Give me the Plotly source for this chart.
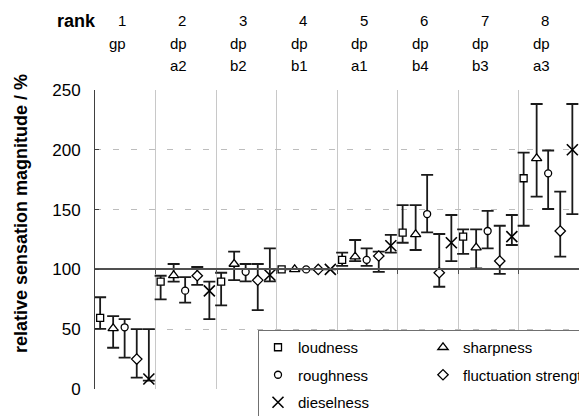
import plotly.graph_objects as go

# ---- data ----
ranks = [1, 2, 3, 4, 5, 6, 7, 8]
cond_type = ["gp", "dp", "dp", "dp", "dp", "dp", "dp", "dp"]
cond_id = ["", "a2", "b2", "b1", "a1", "b4", "b3", "a3"]

series_names = ["loudness", "sharpness", "roughness", "fluctuation strength", "dieselness"]

loud_val = [59.5, 89.7, 89.7, 100, 108.0, 130.7, 127.4, 176.2]
loud_hi = [76.7, 94.7, 97.2, 100, 114.0, 153.8, 133.5, 197.6]
loud_lo = [50.2, 75.0, 70.0, 100, 103.0, 122.3, 112.9, 136.5]

sharp_val = [50.7, 95.0, 104.5, 100, 110.6, 129.3, 118.2, 192.8]
sharp_hi = [61.0, 104.5, 114.8, 100, 124.6, 153.8, 133.5, 238.3]
sharp_lo = [34.5, 89.7, 91.0, 100, 107.0, 116.2, 100.9, 160.8]

rough_val = [51.6, 82.2, 98.0, 100, 108.0, 146.3, 132.1, 180.3]
rough_hi = [58.5, 93.6, 104.5, 100, 117.6, 179.0, 149.0, 199.4]
rough_lo = [26.2, 72.2, 90.0, 100, 103.0, 131.0, 117.6, 150.5]

fluct_val = [25.0, 94.7, 91.0, 100, 111.2, 97.2, 107.0, 132.1]
fluct_hi = [50.0, 102.0, 104.5, 100, 114.8, 129.6, 136.5, 165.0]
fluct_lo = [9.5, 87.0, 66.0, 100, 98.0, 85.5, 96.2, 110.6]

diesel_val = [8.4, 82.0, 95.3, 100, 119.8, 122.3, 127.4, 200.0]
diesel_hi = [50.0, 89.7, 117.6, 100, 128.8, 145.5, 145.5, 238.3]
diesel_lo = [7.0, 58.5, 90.0, 100, 114.0, 107.0, 120.4, 146.3]

y_ticks = [0, 50, 100, 150, 200, 250]

# ---- styling ----
FONT = "Liberation Sans, Arial, sans-serif"
offsets = [-0.415, -0.2, -0.01, 0.19, 0.39]
symbols = ["square", "triangle-up", "circle", "diamond", "x-thin-open"]
sizes = [7, 9, 7, 8, 11]
fills = ["white", "white", "white", "white", "black"]

vals = [loud_val, sharp_val, rough_val, fluct_val, diesel_val]
his = [loud_hi, sharp_hi, rough_hi, fluct_hi, diesel_hi]
los = [loud_lo, sharp_lo, rough_lo, fluct_lo, diesel_lo]

fig = go.Figure()
for k, name in enumerate(series_names):
    v, h, l = vals[k], his[k], los[k]
    fig.add_trace(go.Scatter(
        x=[r + offsets[k] for r in ranks],
        y=v,
        mode="markers",
        name=name,
        legendgroup=name,
        marker=dict(symbol=symbols[k], size=sizes[k], color=fills[k],
                    line=dict(color="black", width=1.6 if k == 4 else 1.3)),
        error_y=dict(type="data", symmetric=False,
                     array=[hh - vv for hh, vv in zip(h, v)],
                     arrayminus=[vv - ll for vv, ll in zip(v, l)],
                     color="#1a1a1a", thickness=1.8, width=6),
    ))

# pixel helpers for annotation placement (layout only)
def py2paper(py):
    return (389 - py) / 299.0

def px2paper(px):
    return (px - 95) / 484.0

annotations = []
annotations.append(dict(text="<b>rank</b>", xref="paper", yref="paper",
                        x=px2paper(98), y=py2paper(21), xanchor="right", yanchor="middle",
                        showarrow=False, font=dict(family=FONT, size=18, color="black")))
for r, t, c in zip(ranks, cond_type, cond_id):
    annotations.append(dict(text=str(r), xref="x", yref="paper", x=r - 0.06, y=py2paper(21),
                            showarrow=False, xanchor="center", yanchor="middle",
                            font=dict(family=FONT, size=15, color="black")))
    annotations.append(dict(text=t, xref="x", yref="paper", x=r - 0.12, y=py2paper(43),
                            showarrow=False, xanchor="center", yanchor="middle",
                            font=dict(family=FONT, size=15, color="black")))
    if c:
        annotations.append(dict(text=c, xref="x", yref="paper", x=r - 0.12, y=py2paper(65),
                                showarrow=False, xanchor="center", yanchor="middle",
                                font=dict(family=FONT, size=15, color="black")))
annotations.append(dict(text="<b>relative sensation magnitude / %</b>", xref="paper", yref="paper",
                        x=px2paper(21), y=py2paper(214), textangle=-90, showarrow=False,
                        xanchor="center", yanchor="middle",
                        font=dict(family=FONT, size=18, color="black")))

fig.update_layout(
    width=579, height=416,
    margin=dict(l=95, r=0, t=90, b=27, autoexpand=False),
    paper_bgcolor="white", plot_bgcolor="white",
    font=dict(family=FONT, size=14, color="black"),
    annotations=annotations,
    showlegend=True,
    legend=dict(orientation="h", x=px2paper(258), y=py2paper(330),
                xanchor="left", yanchor="top",
                bgcolor="white", bordercolor="#707070", borderwidth=1,
                font=dict(family=FONT, size=15, color="black"),
                tracegroupgap=5, entrywidth=120, itemwidth=30),
    xaxis=dict(range=[0.5, 8.5], anchor="free", position=100 / 250.0,
               tickvals=[1.5, 2.5, 3.5, 4.5, 5.5, 6.5, 7.5],
               showticklabels=False, ticks="outside", ticklen=4, tickcolor="#505050",
               showline=True, linecolor="#505050", linewidth=2,
               showgrid=True, gridcolor="#c8c8c8", gridwidth=1, zeroline=False),
    yaxis=dict(range=[0, 250], tickvals=y_ticks, ticks="inside", ticklen=4,
               tickcolor="#404040", showline=True, linecolor="#404040", linewidth=1,
               showgrid=True, gridcolor="#bdbdbd", griddash="6px,12px", gridwidth=1,
               zeroline=False, ticklabelstandoff=10,
               tickfont=dict(family=FONT, size=17, color="black")),
)

fig.write_html("out.html", include_plotlyjs=True, full_html=True,
               config={"displayModeBar": False},
               post_script="document.body.style.margin='0';")
